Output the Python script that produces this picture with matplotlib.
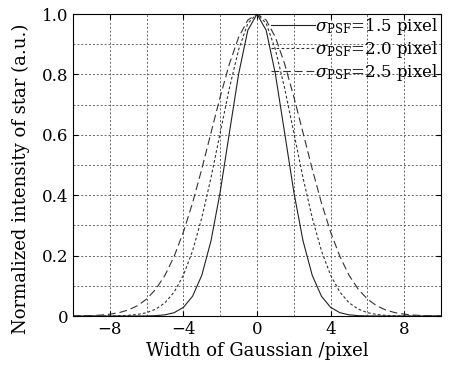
import matplotlib
matplotlib.use('Agg')
import matplotlib.pyplot as plt
import numpy as np

# Data (normalized star intensity vs. position)
x = np.arange(-10, 10.01, 0.5)

half_15 = [1.0, 0.946, 0.801, 0.607, 0.411, 0.249, 0.135, 0.0657, 0.0286, 0.0111,
           0.0039, 0.0012, 0.0003, 0.0001, 0.0, 0.0, 0.0, 0.0, 0.0, 0.0, 0.0]
half_20 = [1.0, 0.969, 0.882, 0.755, 0.607, 0.458, 0.325, 0.216, 0.135, 0.0796,
           0.0439, 0.0228, 0.0111, 0.0051, 0.0022, 0.0009, 0.0003, 0.0001, 0.0, 0.0, 0.0]
half_25 = [1.0, 0.980, 0.923, 0.835, 0.726, 0.607, 0.487, 0.375, 0.278, 0.198,
           0.135, 0.0889, 0.0561, 0.0340, 0.0198, 0.0111, 0.0060, 0.0031, 0.0015, 0.0007, 0.0003]

# full profiles, symmetric about 0
I_15 = half_15[::-1] + half_15[1:]
I_20 = half_20[::-1] + half_20[1:]
I_25 = half_25[::-1] + half_25[1:]

labels = [r'$\sigma_{\rm PSF}$=1.5 pixel',
          r'$\sigma_{\rm PSF}$=2.0 pixel',
          r'$\sigma_{\rm PSF}$=2.5 pixel']

plt.rcParams['font.family'] = 'DejaVu Serif'
plt.rcParams['mathtext.fontset'] = 'dejavuserif'

fig = plt.figure(figsize=(4.52, 3.69), dpi=100)
ax = fig.add_axes([0.1615, 0.1436, 0.8142, 0.8184])

ax.plot(x, I_15, color='#222222', lw=0.8, ls='-', label=labels[0])
ax.plot(x, I_20, color='#333333', lw=0.8, ls=(0, (2.5, 2)), label=labels[1])
ax.plot(x, I_25, color='#333333', lw=0.8, ls=(0, (7, 3.5)), label=labels[2])

ax.set_xlim(-10, 10)
ax.set_ylim(0, 1.0)
ax.set_xticks([-8, -4, 0, 4, 8])
ax.set_xticklabels(['\u22128', '\u22124', '0', '4', '8'])
ax.set_yticks([0, 0.2, 0.4, 0.6, 0.8, 1.0])
ax.set_yticklabels(['0', '0.2', '0.4', '0.6', '0.8', '1.0'])
ax.set_xticks(np.arange(-8, 9, 2), minor=True)
ax.set_yticks(np.arange(0.1, 1.0, 0.1), minor=True)
ax.grid(True, which='both', ls=(0, (2, 2)), color='#666666', lw=0.7)
ax.tick_params(which='both', direction='in', top=True, right=True, labelsize=12)
ax.tick_params(which='minor', length=0)

ax.set_xlabel('Width of Gaussian /pixel', fontsize=13, labelpad=3)
ax.set_ylabel('Normalized intensity of star (a.u.)', fontsize=13)
ax.yaxis.set_label_coords(-0.117, 0.455)

leg = ax.legend(loc='upper right', frameon=False, fontsize=12, handlelength=2.6,
                handletextpad=0.0, borderaxespad=0.0, labelspacing=0.12,
                bbox_to_anchor=(1.01, 1.015))

fig.savefig('out.png', dpi=100)
